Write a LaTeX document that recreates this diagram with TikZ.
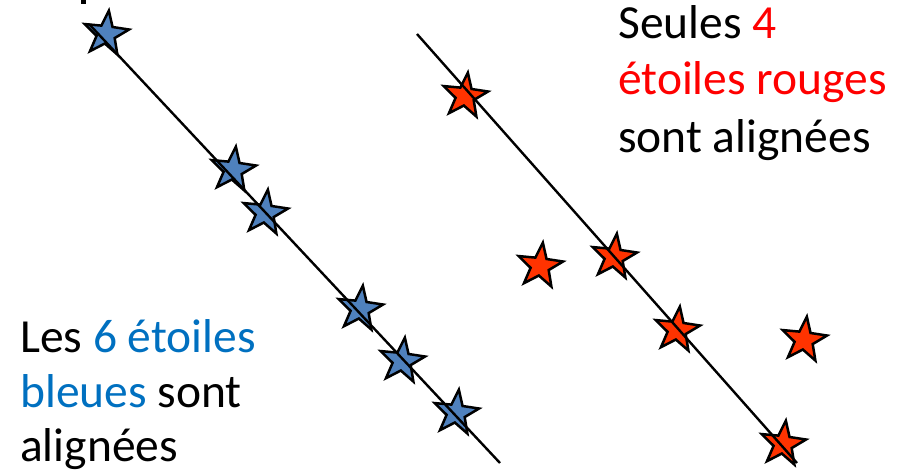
\documentclass[tikz,border=0pt]{standalone}
\usepackage{fontspec}
\setmainfont{Carlito}
\usetikzlibrary{shapes.geometric}
\definecolor{starblue}{HTML}{4F81BD}
\definecolor{starred}{HTML}{FF3300}
\definecolor{txtblue}{HTML}{0070C0}
\definecolor{txtred}{HTML}{FF0000}
\tikzset{
  etoile/.style={star, star points=5, star point ratio=2.45, minimum size=47pt, inner sep=0pt,
    draw=black, line width=2.5pt, line join=miter, shape border rotate=-7},
  bstar/.style={etoile, fill=starblue},
  rstar/.style={etoile, fill=starred},
  trait/.style={draw=black, line width=2.4pt},
  txt/.style={anchor=base west, inner sep=0pt, font=\fontsize{47.5}{57}\selectfont}
}
\begin{document}
\begin{tikzpicture}[x=1pt,y=-1pt]
\useasboundingbox (0,0) rectangle (908,475);
% cut-off mark at top
\fill[black] (81,0) rectangle (86,4);
% blue stars
\node[bstar] (b1) at (106,34) {};
\node[bstar] (b2) at (233,170) {};
\node[bstar] (b3) at (265,213) {};
\node[bstar] (b4) at (360,309) {};
\node[bstar] (b5) at (402,361) {};
\node[bstar] (b6) at (456,413) {};
% red stars
\node[rstar] (r1) at (465,96) {};
\node[rstar] (r2) at (540,266) {};
\node[rstar] (r3) at (614,257) {};
\node[rstar] (r4) at (677,330) {};
\node[rstar] (r5) at (804,340) {};
\node[rstar] (r6) at (783,444) {};
% lines
\coordinate (bA) at (89,24);
\coordinate (bB) at (500,463);
\coordinate (rA) at (417,34);
\coordinate (rB) at (797,463);
\draw[trait] (bA) -- (bB);
\draw[trait] (rA) -- (rB);
% texts
\node[txt] (ta) at (618,38) {Seules \textcolor{txtred}{4}};
\node[txt] (tb) at (618,94) {\textcolor{txtred}{étoiles rouges}};
\node[txt] (tc) at (618,152) {sont alignées};
\node[txt] (la) at (20,352) {Les \textcolor{txtblue}{6 étoiles}};
\node[txt] (lb) at (20,407) {\textcolor{txtblue}{bleues} sont};
\node[txt] (lc) at (20,461) {alignées};
\end{tikzpicture}
\end{document}
